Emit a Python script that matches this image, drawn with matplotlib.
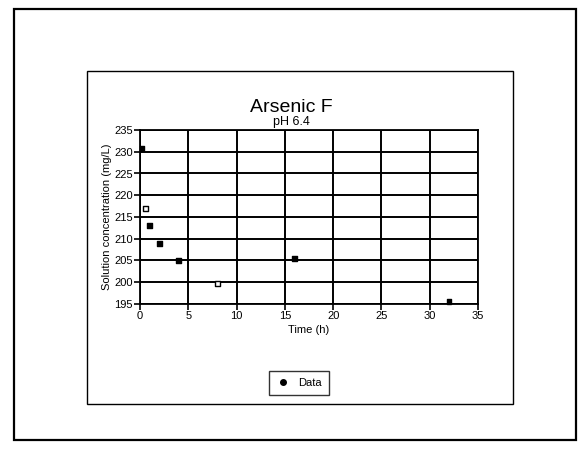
import matplotlib
matplotlib.use("Agg")
import matplotlib.pyplot as plt
from matplotlib.patches import Rectangle
from matplotlib.lines import Line2D

plt.rcParams['font.family'] = ['Liberation Sans', 'DejaVu Sans']

# Data
time_h = [0.2, 0.6, 1.0, 2.0, 4.0, 8.0, 16.0, 32.0]
conc_mg_l = [230.8, 217.0, 213.0, 209.0, 205.0, 199.8, 205.4, 195.6]
filled = [True, False, True, True, True, False, True, True]

x_ticks = [0, 5, 10, 15, 20, 25, 30, 35]
y_ticks = [195, 200, 205, 210, 215, 220, 225, 230, 235]

W, H = 581, 457
fig = plt.figure(figsize=(W / 100, H / 100), dpi=100)
fig.patch.set_facecolor('white')

# Outer and inner frames (page borders)
fig.add_artist(Rectangle((14 / W, 1 - 440 / H), (576 - 14) / W, (440 - 9) / H,
                         transform=fig.transFigure, fill=False, ec='black', lw=1.6))
fig.add_artist(Rectangle((87 / W, 1 - 404 / H), (513 - 87) / W, (404 - 71) / H,
                         transform=fig.transFigure, fill=False, ec='black', lw=1.0))

ax = fig.add_axes([140 / W, 1 - 304 / H, (478 - 140) / W, (304 - 130) / H])
ax.set_xlim(0, 35)
ax.set_ylim(195, 235)
ax.set_xticks(x_ticks)
ax.set_yticks(y_ticks)
ax.tick_params(direction='out', length=4, width=1.2, labelsize=8, pad=1, colors='black')
ax.grid(True, color='black', lw=1.4)
for s in ax.spines.values():
    s.set_color('black')
    s.set_linewidth(1.3)

fc = ['black' if f else 'white' for f in filled]
ax.scatter(time_h, conc_mg_l, marker='s', s=12, facecolors=fc, edgecolors='black',
           linewidths=1.0, zorder=3, clip_on=False)

ax.set_xlabel('Time (h)', fontsize=8, labelpad=3)
ax.set_ylabel('Solution concentration (mg/L)', fontsize=8, labelpad=2)

fig.text(291 / W, 1 - 107 / H, 'Arsenic F', ha='center', va='center', fontsize=14)
fig.text(291 / W, 1 - 122 / H, 'pH 6.4', ha='center', va='center', fontsize=9)

handle = Line2D([], [], marker='o', color='black', ls='none', markersize=4)
leg = fig.legend([handle], ['Data'], loc='center', bbox_to_anchor=(299 / W, 1 - 383 / H),
                 fontsize=8, frameon=True, fancybox=False, edgecolor='black',
                 handletextpad=0.8, borderpad=0.6, handlelength=1.2)
leg.get_frame().set_linewidth(1.0)

fig.savefig('out.png', dpi=100, facecolor='white')
